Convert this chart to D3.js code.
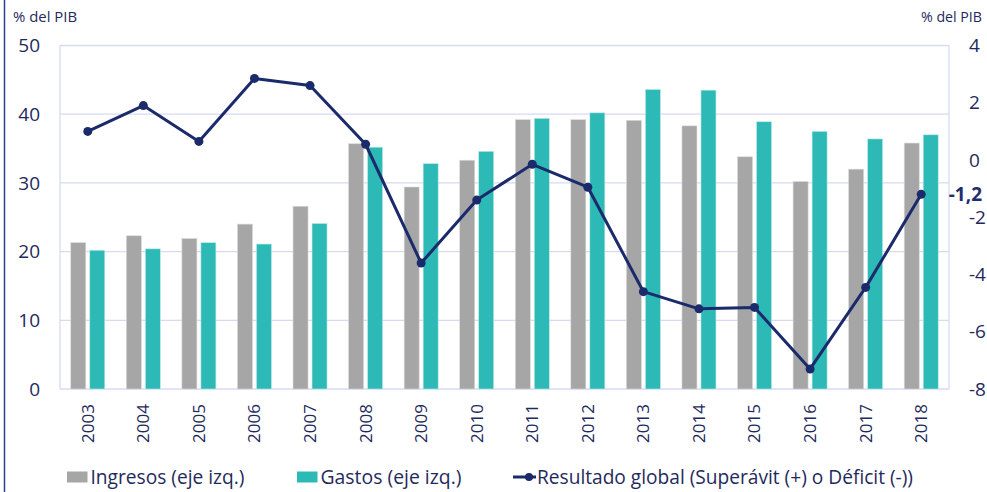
<!DOCTYPE html>
<html>
<head>
<meta charset="utf-8">
<script src="https://cdn.jsdelivr.net/npm/d3@7"></script>
<style>
  body { margin: 0; background: #fff; }
  svg text { font-family: "Open Sans", "Noto Sans", sans-serif; fill: #1f2a5c; }
</style>
</head>
<body>
<svg width="987" height="492"></svg>
<script>
var years = ["2003","2004","2005","2006","2007","2008","2009","2010","2011","2012","2013","2014","2015","2016","2017","2018"];
var ingresos = [21.3, 22.3, 21.9, 24.0, 26.6, 35.7, 29.4, 33.3, 39.2, 39.2, 39.1, 38.3, 33.8, 30.2, 32.0, 35.8];
var gastos = [20.2, 20.4, 21.3, 21.1, 24.1, 35.2, 32.8, 34.6, 39.4, 40.2, 43.6, 43.5, 38.9, 37.5, 36.4, 37.0];
var resultado = [1.0, 1.9, 0.65, 2.85, 2.6, 0.55, -3.6, -1.4, -0.15, -0.95, -4.6, -5.2, -5.15, -7.3, -4.45, -1.2];
var leftTicks = [0, 10, 20, 30, 40, 50];
var rightTicks = [-8, -6, -4, -2, 0, 2, 4];

var svg = d3.select("svg"),
  margin = { top: 45.5, right: 38, bottom: 103, left: 60 },
  width = +svg.attr("width") - margin.left - margin.right,
  height = +svg.attr("height") - margin.top - margin.bottom;

var lineCol = "#1b2a6b", gridCol = "#d6dbf3";

var x = d3.scaleBand().domain(years).range([0, width]);
var yL = d3.scaleLinear().domain([0, 50]).range([height, 0]);
var yR = d3.scaleLinear().domain([-8, 4]).range([height, 0]);

// left frame line
svg.append("line").attr("x1", 4.5).attr("x2", 4.5).attr("y1", 0).attr("y2", 492)
  .attr("stroke", "#2e3f8f").attr("stroke-width", 1.5);

var g = svg.append("g").attr("transform", "translate(" + margin.left + "," + margin.top + ")");

// gridlines
g.selectAll(".grid").data(leftTicks).enter().append("line")
  .attr("x1", 0).attr("x2", width)
  .attr("y1", function(d) { return yL(d); }).attr("y2", function(d) { return yL(d); })
  .attr("stroke", gridCol).attr("stroke-width", 1.3);
g.append("line").attr("x1", 0).attr("x2", 0).attr("y1", 0).attr("y2", height).attr("stroke", gridCol).attr("stroke-width", 1.3);
g.append("line").attr("x1", width).attr("x2", width).attr("y1", 0).attr("y2", height).attr("stroke", gridCol).attr("stroke-width", 1.3);

// bars
var bw = 15, gap = 4;
g.selectAll(".ing").data(ingresos).enter().append("rect")
  .attr("x", function(d, i) { return x(years[i]) + x.bandwidth() / 2 - gap / 2 - bw; })
  .attr("y", function(d) { return yL(d); })
  .attr("width", bw)
  .attr("height", function(d) { return height - yL(d); })
  .attr("fill", "#a6a6a6").attr("stroke", "#d9d9d9").attr("stroke-width", 0.6);
g.selectAll(".gas").data(gastos).enter().append("rect")
  .attr("x", function(d, i) { return x(years[i]) + x.bandwidth() / 2 + gap / 2; })
  .attr("y", function(d) { return yL(d); })
  .attr("width", bw)
  .attr("height", function(d) { return height - yL(d); })
  .attr("fill", "#2db9b6").attr("stroke", "#bfeae9").attr("stroke-width", 0.6);

// line
var line = d3.line()
  .x(function(d, i) { return x(years[i]) + x.bandwidth() / 2; })
  .y(function(d) { return yR(d); });
g.append("path").datum(resultado).attr("d", line)
  .attr("fill", "none").attr("stroke", lineCol).attr("stroke-width", 3).attr("stroke-linejoin", "round");
g.selectAll(".dot").data(resultado).enter().append("circle")
  .attr("cx", function(d, i) { return x(years[i]) + x.bandwidth() / 2; })
  .attr("cy", function(d) { return yR(d); })
  .attr("r", 4.5).attr("fill", lineCol);

// left axis labels
g.selectAll(".lt").data(leftTicks).enter().append("text")
  .attr("x", -20).attr("y", function(d) { return yL(d); }).attr("dy", "0.35em")
  .attr("text-anchor", "end").attr("font-size", 19).text(function(d) { return d; });

// right axis labels
g.selectAll(".rt").data(rightTicks).enter().append("text")
  .attr("x", width + 20).attr("y", function(d) { return yR(d); }).attr("dy", "0.35em")
  .attr("text-anchor", "start").attr("font-size", 19).text(function(d) { return d; });
g.append("text").attr("x", width + 33).attr("y", yR(resultado[resultado.length - 1])).attr("dy", "0.35em")
  .attr("text-anchor", "end").attr("font-size", 19).attr("font-weight", "bold").style("fill", "#1f2d6e")
  .text("-1,2");

// x labels
g.selectAll(".xl").data(years).enter().append("text")
  .attr("transform", function(d) { return "translate(" + (x(d) + x.bandwidth() / 2) + "," + (height + 15) + ") rotate(-90)"; })
  .attr("dy", "0.35em").attr("text-anchor", "end").attr("font-size", 17).text(function(d) { return d; });

// unit labels
svg.append("text").attr("x", 13).attr("y", 22).attr("font-size", 14)
  .attr("textLength", 64).attr("lengthAdjust", "spacingAndGlyphs").text("% del PIB");
svg.append("text").attr("x", 921).attr("y", 22).attr("font-size", 14)
  .attr("textLength", 61).attr("lengthAdjust", "spacingAndGlyphs").text("% del PIB");

// legend
var ly = 477;
svg.append("rect").attr("x", 67).attr("y", ly - 5.5).attr("width", 20.5).attr("height", 11).attr("fill", "#a6a6a6");
svg.append("text").attr("x", 90.5).attr("y", ly).attr("dy", "0.35em").attr("font-size", 20)
  .attr("textLength", 154).attr("lengthAdjust", "spacingAndGlyphs").text("Ingresos (eje izq.)");
svg.append("rect").attr("x", 297).attr("y", ly - 5.5).attr("width", 20.5).attr("height", 11).attr("fill", "#2db9b6");
svg.append("text").attr("x", 320.5).attr("y", ly).attr("dy", "0.35em").attr("font-size", 20)
  .attr("textLength", 141).attr("lengthAdjust", "spacingAndGlyphs").text("Gastos (eje izq.)");
svg.append("line").attr("x1", 513).attr("x2", 536).attr("y1", ly).attr("y2", ly).attr("stroke", lineCol).attr("stroke-width", 3);
svg.append("circle").attr("cx", 529).attr("cy", ly).attr("r", 4).attr("fill", lineCol);
svg.append("text").attr("x", 537).attr("y", ly).attr("dy", "0.35em").attr("font-size", 20)
  .attr("textLength", 376).attr("lengthAdjust", "spacingAndGlyphs").text("Resultado global (Superávit (+) o Déficit (-))");
</script>
</body>
</html>
